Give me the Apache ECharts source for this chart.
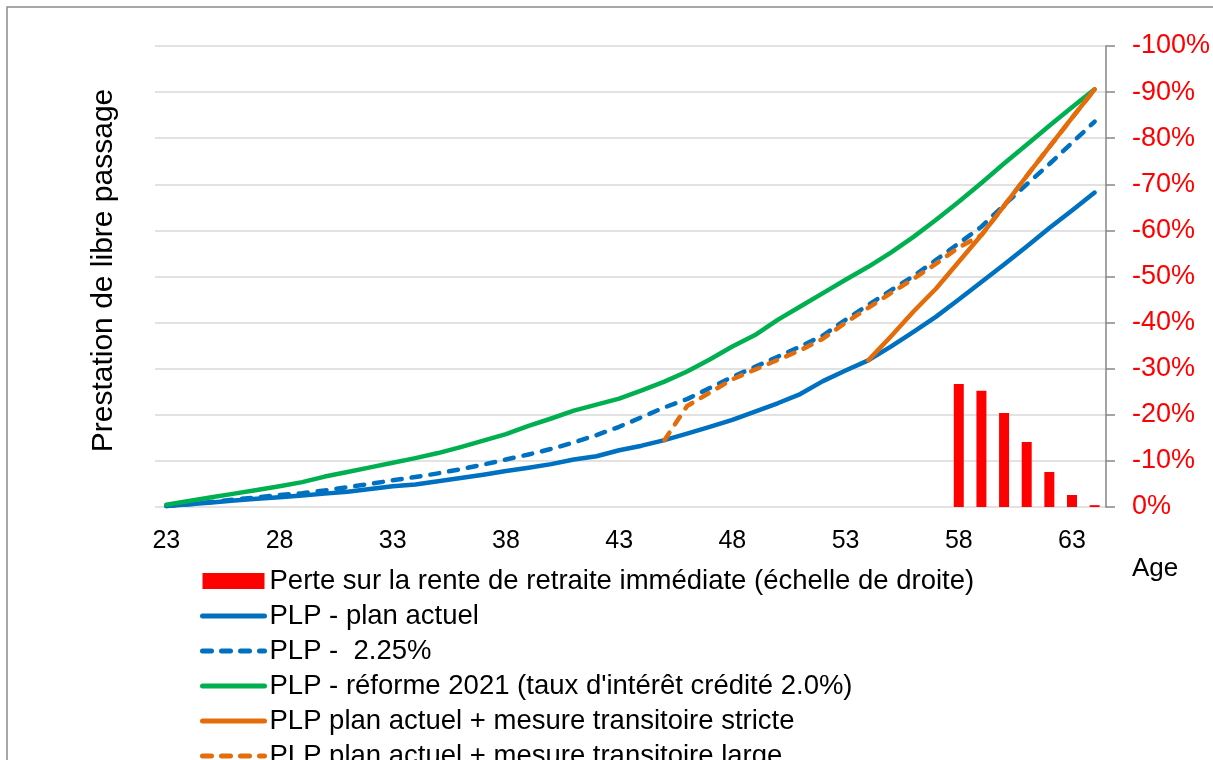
<!DOCTYPE html>
<html>
<head>
<meta charset="utf-8">
<script src="https://cdn.jsdelivr.net/npm/echarts@6/dist/echarts.min.js"></script>
<style>
  html, body { margin: 0; padding: 0; background: #fff; }
  #main { width: 1213px; height: 760px; }
</style>
</head>
<body>
<div id="main"></div>
<script>
var ages = [];
for (var a = 23; a <= 64; a++) ages.push(String(a));

// perte sur la rente (échelle de droite, en %)
var perte = [null, null, null, null, null, null, null, null, null, null,
             null, null, null, null, null, null, null, null, null, null,
             null, null, null, null, null, null, null, null, null, null,
             null, null, null, null, null,
             -26.7, -25.2, -20.4, -14.1, -7.6, -2.6, -0.4];

var plpActuel = [0.2, 0.6, 1.0, 1.4, 1.8, 2.1, 2.5, 2.9, 3.3, 3.9,
                 4.5, 4.9, 5.6, 6.3, 7.0, 7.8, 8.5, 9.3, 10.3, 11.0,
                 12.3, 13.3, 14.5, 15.9, 17.4, 18.9, 20.7, 22.5, 24.5, 27.3,
                 29.6, 31.8, 34.8, 38.0, 41.3, 45.0, 48.8, 52.6, 56.5, 60.5,
                 64.3, 68.2];

var plp225 = [0.2, 0.6, 1.1, 1.6, 2.1, 2.6, 3.0, 3.6, 4.3, 5.0,
              5.8, 6.5, 7.3, 8.2, 9.2, 10.3, 11.4, 12.6, 14.0, 15.6,
              17.4, 19.5, 21.6, 23.4, 25.8, 28.2, 30.4, 32.6, 34.8, 37.2,
              40.6, 43.8, 47.0, 50.1, 53.6, 57.2, 60.8, 65.5, 70.0, 74.4,
              79.0, 83.6];

var plpReforme = [0.5, 1.3, 2.1, 2.9, 3.7, 4.5, 5.4, 6.6, 7.6, 8.6,
                  9.6, 10.6, 11.7, 13.0, 14.4, 15.8, 17.6, 19.2, 20.9, 22.2,
                  23.5, 25.3, 27.2, 29.4, 32.0, 34.8, 37.3, 40.6, 43.5, 46.4,
                  49.3, 52.1, 55.2, 58.6, 62.3, 66.2, 70.3, 74.5, 78.6, 82.7,
                  86.7, 90.6];

var plpStricte = [null, null, null, null, null, null, null, null, null, null,
                  null, null, null, null, null, null, null, null, null, null,
                  null, null, null, null, null, null, null, null, null, null,
                  null, 31.8, 37.0, 42.4, 47.4, 53.2, 59.0, 65.3, 71.8, 78.1,
                  84.4, 90.6];

var plpLarge = [null, null, null, null, null, null, null, null, null, null,
                null, null, null, null, null, null, null, null, null, null,
                null, null, 14.5, 21.9, 24.8, 27.7, 29.8, 31.9, 34.0, 36.5,
                40.0, 43.2, 46.4, 49.5, 52.8, 56.3, 59.0, 65.3, 71.8, 78.1,
                84.4, 90.6];

var names = ['Perte sur la rente de retraite immédiate (échelle de droite)',
             'PLP - plan actuel',
             'PLP -  2.25%',
             'PLP - réforme 2021 (taux d\'intérêt crédité 2.0%)',
             'PLP plan actuel + mesure transitoire stricte',
             'PLP plan actuel + mesure transitoire large'];

var blue = '#0070C0', green = '#00B050', orange = '#E46C0A';
var font = 'Liberation Sans, Arial, sans-serif';

function lineSeries(name, data, color, dashed) {
  return {
    name: name,
    type: 'line',
    data: data,
    symbol: 'none',
    showSymbol: false,
    connectNulls: false,
    lineStyle: {
      color: color,
      width: 4.5,
      type: dashed ? [9, 10] : 'solid',
      cap: 'round',
      join: 'round'
    },
    itemStyle: { color: color }
  };
}

// legend entries: plain rect for the bars, line only (no marker) for the rest
var legendData = names.map(function (n, i) {
  if (i === 0) return { name: n, icon: 'rect' };
  return { name: n, itemStyle: { opacity: 0 }, lineStyle: { width: 5 } };
});

var myChart = echarts.init(document.getElementById('main'));

var option = {
  animation: false,
  backgroundColor: '#fff',
  textStyle: { fontFamily: font },
  graphic: [{
    type: 'rect',
    shape: { x: 7, y: 7, width: 1230, height: 800 },
    style: { fill: 'none', stroke: '#8c8c8c', lineWidth: 1.5 },
    silent: true
  }],
  grid: { left: 155, right: 106, top: 46, bottom: 253 },
  legend: {
    orient: 'vertical',
    left: 200,
    top: 567,
    height: 400,
    padding: 0,
    itemWidth: 62,
    itemHeight: 16,
    itemGap: 7,
    textStyle: { fontFamily: font, fontSize: 27.5, color: '#000' },
    data: legendData
  },
  xAxis: {
    type: 'category',
    data: ages,
    boundaryGap: true,
    axisLine: { show: false },
    axisTick: { show: false },
    axisLabel: { interval: 4, color: '#000', fontSize: 25, fontFamily: font, margin: 22 },
    name: 'Age',
    nameLocation: 'end',
    nameGap: 26,
    nameTextStyle: { color: '#000', fontSize: 26, fontFamily: font,
                     verticalAlign: 'top', padding: [49, 0, 0, 0] }
  },
  yAxis: [{
    type: 'value',
    min: 0,
    max: 100,
    interval: 10,
    axisLabel: { show: false },
    axisLine: { show: false },
    axisTick: { show: false },
    splitLine: { lineStyle: { color: '#d9d9d9', width: 1.5 } },
    name: 'Prestation de libre passage',
    nameLocation: 'middle',
    nameGap: 36,
    nameTextStyle: { color: '#000', fontSize: 30, fontFamily: font, padding: [0, 0, 0, 12] }
  }, {
    type: 'value',
    min: -100,
    max: 0,
    interval: 10,
    inverse: true,
    position: 'right',
    splitLine: { show: false },
    axisLine: { show: true, lineStyle: { color: '#868686', width: 1.5 } },
    axisTick: { show: true, length: 9, lineStyle: { color: '#868686', width: 1.5 } },
    axisLabel: {
      color: '#FF0000', fontSize: 27, fontFamily: font, margin: 26,
      formatter: function (v) { return v + '%'; }
    }
  }],
  series: [
    {
      name: names[0],
      type: 'bar',
      yAxisIndex: 1,
      data: perte,
      barWidth: 10,
      itemStyle: { color: '#FF0000' }
    },
    lineSeries(names[1], plpActuel, blue, false),
    lineSeries(names[2], plp225, blue, true),
    lineSeries(names[3], plpReforme, green, false),
    lineSeries(names[4], plpStricte, orange, false),
    lineSeries(names[5], plpLarge, orange, true)
  ]
};

myChart.setOption(option);
</script>
</body>
</html>
